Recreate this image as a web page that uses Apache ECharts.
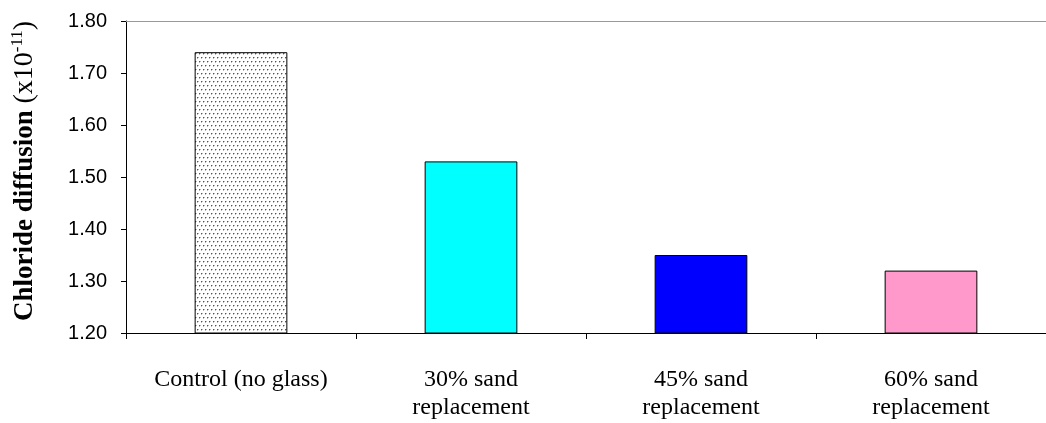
<!DOCTYPE html>
<html>
<head>
<meta charset="utf-8">
<script src="https://cdn.jsdelivr.net/npm/echarts@6/dist/echarts.min.js"></script>
<style>
html,body{margin:0;padding:0;background:#fff;}
#chart{width:1046px;height:423px;}
</style>
</head>
<body>
<div id="chart"></div>
<script>
const categories = ['Control (no glass)', '30% sand\nreplacement', '45% sand\nreplacement', '60% sand\nreplacement'];
const values = [1.74, 1.53, 1.35, 1.32];
const barColors = ['pattern', '#00FFFF', '#0000FF', '#FF99CC'];
const yTicks = { min: 1.2, max: 1.8, interval: 0.1 };

function dotPattern() {
  const c = document.createElement('canvas');
  c.width = 4; c.height = 8;
  const ctx = c.getContext('2d');
  ctx.fillStyle = '#ffffff';
  ctx.fillRect(0, 0, 4, 8);
  ctx.fillStyle = '#555555';
  ctx.fillRect(1, 1, 1, 1);
  ctx.fillRect(3, 5, 1, 1);
  ctx.fillStyle = '#b8b8b8';
  ctx.fillRect(2, 1, 1, 1);
  ctx.fillRect(0, 5, 1, 1);
  ctx.fillRect(1, 2, 1, 1);
  ctx.fillRect(3, 6, 1, 1);
  return { image: c, repeat: 'repeat' };
}

const chart = echarts.init(document.getElementById('chart'), null, { renderer: 'canvas' });
const data = values.map((v, i) => ({
  value: v,
  itemStyle: { color: barColors[i] === 'pattern' ? dotPattern() : barColors[i] }
}));

chart.setOption({
  animation: false,
  backgroundColor: '#ffffff',
  grid: { left: 126, right: -12, top: 21, bottom: 90, containLabel: false },
  xAxis: {
    type: 'category',
    data: categories,
    boundaryGap: true,
    axisLine: { lineStyle: { color: '#000', width: 1 } },
    axisTick: { show: true, length: 6, lineStyle: { color: '#000' } },
    axisLabel: {
      interval: 0,
      margin: 33,
      color: '#000',
      fontFamily: 'Liberation Serif',
      fontSize: 24,
      lineHeight: 28
    }
  },
  yAxis: {
    type: 'value',
    min: yTicks.min,
    max: yTicks.max,
    interval: yTicks.interval,
    axisLine: { show: true, lineStyle: { color: '#000', width: 1 } },
    axisTick: { show: true, length: 5, lineStyle: { color: '#000' } },
    splitLine: { show: false },
    axisLabel: {
      color: '#000',
      fontFamily: 'Liberation Sans',
      fontSize: 20,
      margin: 19,
      formatter: v => v.toFixed(2)
    },
    name: '{b|Chloride diffusion}  {n|(x10}{s|-11}{n|)}',
    nameLocation: 'middle',
    nameGap: 85,
    nameRotate: 90,
    nameTextStyle: {
      color: '#000',
      padding: [0, 0, 0, 12],
      rich: {
        b: { fontFamily: 'Liberation Serif', fontWeight: 'bold', fontSize: 27, color: '#000' },
        n: { fontFamily: 'Liberation Serif', fontSize: 28, color: '#000' },
        s: { fontFamily: 'Liberation Serif', fontSize: 17, color: '#000', verticalAlign: 'bottom', padding: [0, 0, 15, 0] }
      }
    }
  },
  series: [{
    type: 'bar',
    data: data,
    barWidth: '40.3%',
    itemStyle: { borderColor: '#000', borderWidth: 1 },
    markLine: {
      silent: true,
      symbol: 'none',
      label: { show: false },
      lineStyle: { color: '#999', type: 'solid', width: 1 },
      data: [{ yAxis: yTicks.max }]
    }
  }]
});
</script>
</body>
</html>
